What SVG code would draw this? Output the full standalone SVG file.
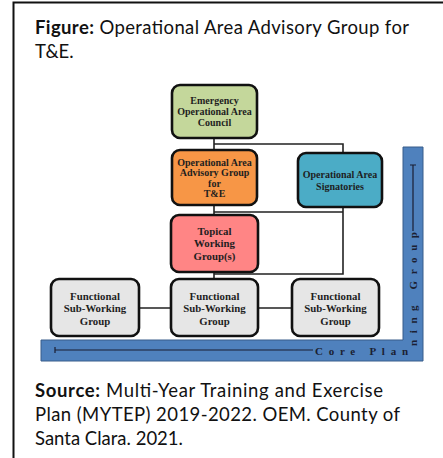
<svg xmlns="http://www.w3.org/2000/svg" width="443" height="458" viewBox="0 0 443 458">
<style>
.cap{font-family:Lato,"Liberation Sans",sans-serif;font-size:18.5px;fill:#111}
.b{font-weight:bold}
.box{stroke:#111;stroke-width:2.6}
.lbl{font-family:"Liberation Serif","Times New Roman",serif;font-weight:bold;font-size:10px;fill:#1e1e1e;text-anchor:middle}
.lg{font-size:10.8px}
.con{fill:none;stroke:#222;stroke-width:1.6}
.bar{font-family:"Liberation Serif",serif;font-weight:bold;font-size:11px;fill:#1b1f33}
</style>
<rect width="443" height="458" fill="#fff"/>
<path d="M13.5,458 V2.5 H443" fill="none" stroke="#111" stroke-width="2"/>
<text class="cap" x="35" y="34" textLength="374" lengthAdjust="spacing"><tspan class="b">Figure:</tspan> Operational Area Advisory Group for</text>
<text class="cap" x="35" y="58">T&amp;E.</text>

<g id="planning-bar">
<path d="M403,147 H423 V361 H41 V340 H403 Z" fill="#4f81bd" stroke="#385d8a" stroke-width="1"/>
<path d="M55,350 H313 M55,347 V353" stroke="#1b1f33" stroke-width="1.2" fill="none"/>
<text class="bar" x="315" y="355" textLength="93" lengthAdjust="spacing">Core Plan</text>
<path d="M413,231 V165 M410,165 H416" stroke="#1b1f33" stroke-width="1.2" fill="none"/>
<text class="bar" transform="translate(417,346) rotate(-90)" x="0" y="0" textLength="114" lengthAdjust="spacing">ning Group</text>
</g>

<g id="connectors">
<path class="con" d="M214,138 V150 M214,144 H343 V153 M214,205 V215 M214,212 H343 M343,207 V274 H214 M214,272 V279 M139,308 H171 M258,308 H292"/>
</g>

<g id="council">
<rect class="box" x="172" y="85" width="85" height="53" rx="8" fill="#c4d79b"/>
<text class="lbl" x="214.5" y="104">Emergency</text>
<text class="lbl" x="214.5" y="115">Operational Area</text>
<text class="lbl" x="214.5" y="126">Council</text>
</g>

<g id="advisory">
<rect class="box" x="172" y="150" width="85" height="55" rx="8" fill="#f79646"/>
<text class="lbl" x="214.5" y="165.5">Operational Area</text>
<text class="lbl" x="214.5" y="176">Advisory Group</text>
<text class="lbl" x="214.5" y="186.5">for</text>
<text class="lbl" x="214.5" y="197">T&amp;E</text>
</g>

<g id="signatories">
<rect class="box" x="298" y="153" width="84" height="54" rx="8" fill="#4bacc6"/>
<text class="lbl" x="340" y="177.5">Operational Area</text>
<text class="lbl" x="340" y="189.5">Signatories</text>
</g>

<g id="topical">
<rect class="box" x="171" y="215" width="87" height="57" rx="8" fill="#ff8585"/>
<text class="lbl lg" x="214.5" y="234.5">Topical</text>
<text class="lbl lg" x="214.5" y="247">Working</text>
<text class="lbl lg" x="214.5" y="260">Group(s)</text>
</g>

<g id="functional-left">
<rect class="box" x="51" y="279" width="88" height="57" rx="8" fill="#e6e6e6"/>
<text class="lbl lg" x="95" y="299.5">Functional</text>
<text class="lbl lg" x="95" y="312">Sub-Working</text>
<text class="lbl lg" x="95" y="324.5">Group</text>
</g>

<g id="functional-middle">
<rect class="box" x="171" y="279" width="87" height="57" rx="8" fill="#e6e6e6"/>
<text class="lbl lg" x="214.5" y="299.5">Functional</text>
<text class="lbl lg" x="214.5" y="312">Sub-Working</text>
<text class="lbl lg" x="214.5" y="324.5">Group</text>
</g>

<g id="functional-right">
<rect class="box" x="292" y="279" width="87" height="57" rx="8" fill="#e6e6e6"/>
<text class="lbl lg" x="335.5" y="299.5">Functional</text>
<text class="lbl lg" x="335.5" y="312">Sub-Working</text>
<text class="lbl lg" x="335.5" y="324.5">Group</text>
</g>

<text class="cap" x="35" y="397" textLength="348" lengthAdjust="spacing"><tspan class="b">Source:</tspan> Multi-Year Training and Exercise</text>
<text class="cap" x="35" y="421" textLength="365" lengthAdjust="spacing">Plan (MYTEP) 2019-2022. OEM. County of</text>
<text class="cap" x="35" y="445">Santa Clara. 2021.</text>
</svg>
